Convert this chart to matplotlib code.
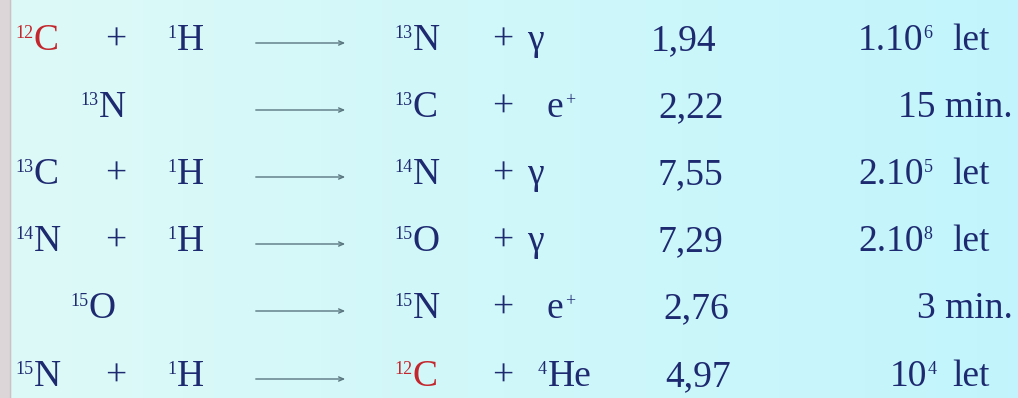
import numpy as np
import matplotlib
matplotlib.use("Agg")
import matplotlib.pyplot as plt

plt.rcParams['font.family'] = ['Liberation Serif', 'DejaVu Serif']

# CNO cycle table
reactant_mass = ['12', '13', '13', '14', '15', '15']
reactant_sym = ['C', 'N', 'C', 'N', 'O', 'N']
proton_mass = ['1', '', '1', '1', '', '1']
proton_sym = ['H', '', 'H', 'H', '', 'H']
product_mass = ['13', '13', '14', '15', '15', '12']
product_sym = ['N', 'C', 'N', 'O', 'N', 'C']
emitted = ['γ', 'e', 'γ', 'γ', 'e', 'He']
emitted_sup = ['', '+', '', '', '+', '4']
energy = ['1,94', '2,22', '7,55', '7,29', '2,76', '4,97']
time_value = ['1.10', '15 min.', '2.10', '2.10', '3 min.', '10']
time_exp = ['6', '', '5', '8', '', '4']
time_unit = ['let', '', 'let', 'let', '', 'let']

# layout (pixels)
baseline = [50, 117, 184, 251, 318, 386]
reactant_x = [15, 80, 15, 15, 70, 15]
energy_x = [651, 658, 658, 658, 663, 665]
time_x = [858, 1013, 858, 858, 1013, 890]

navy = '#1e2a70'
red = '#c3262c'
fs = 27
fs_sup = 13
sup_dy = 12


def nuclide(x, y, mass, sym, color):
    ax.text(x, y - sup_dy, mass, fontsize=fs_sup, color=color, va='baseline', ha='left')
    ax.text(x + 9 * len(mass) + 1, y, sym, fontsize=fs, color=color, va='baseline', ha='left')


def with_exponent(x, y, base, exp):
    t = ax.text(x, y, base, fontsize=fs, color=navy, va='baseline', ha='left')
    if exp:
        # bbox bottom sits at the descent, so lift by descent + superscript shift
        ax.annotate(exp, xy=(1, 0), xycoords=t, xytext=(0, 0.216 * fs + sup_dy * 0.72),
                    textcoords='offset points', fontsize=fs_sup, color=navy,
                    va='baseline', ha='left')


fig = plt.figure(figsize=(10.18, 3.98), dpi=100)
ax = fig.add_axes([0, 0, 1, 1])
ax.set_xlim(0, 1018)
ax.set_ylim(398, 0)
ax.axis('off')

# background
c0 = np.array([0.87, 0.98, 0.97])
c1 = np.array([0.76, 0.96, 0.99])
t = np.linspace(0, 1, 200)[None, :, None]
grad = c0 * (1 - t) + c1 * t
ax.imshow(grad, extent=[0, 1018, 398, 0], aspect='auto', zorder=0)
ax.axvspan(0, 10, color='#dcd6d8', zorder=1)
ax.axvline(10, color='#c9c3c6', lw=1, zorder=1)

for i in range(6):
    y = baseline[i]
    col_a = red if reactant_mass[i] + reactant_sym[i] == '12C' else navy
    nuclide(reactant_x[i], y, reactant_mass[i], reactant_sym[i], col_a)
    if proton_sym[i]:
        ax.text(116, y, '+', fontsize=fs, color=navy, va='baseline', ha='center')
        nuclide(167, y, proton_mass[i], proton_sym[i], navy)
    ax.annotate('', xy=(348, y - 7), xytext=(253, y - 7),
                arrowprops=dict(arrowstyle='->,head_length=0.35,head_width=0.15',
                                color='#5a7680', lw=1.0))
    col_p = red if product_mass[i] + product_sym[i] == '12C' else navy
    nuclide(394, y, product_mass[i], product_sym[i], col_p)
    ax.text(503, y, '+', fontsize=fs, color=navy, va='baseline', ha='center')
    if emitted[i] == 'He':
        nuclide(538, y, emitted_sup[i], emitted[i], navy)
    elif emitted[i] == 'e':
        ax.text(547, y, 'e', fontsize=fs, color=navy, va='baseline', ha='left')
        ax.text(565, y - sup_dy, emitted_sup[i], fontsize=fs_sup, color=navy, va='baseline', ha='left')
    else:
        ax.text(527, y, emitted[i], fontsize=fs, color=navy, va='baseline', ha='left')
    ax.text(energy_x[i], y, energy[i], fontsize=fs, color=navy, va='baseline', ha='left')
    if time_unit[i]:
        with_exponent(time_x[i], y, time_value[i], time_exp[i])
        ax.text(952, y, time_unit[i], fontsize=fs, color=navy, va='baseline', ha='left')
    else:
        ax.text(time_x[i], y, time_value[i], fontsize=fs, color=navy, va='baseline', ha='right')

fig.savefig('out.png', dpi=100)
plt.close('all')
